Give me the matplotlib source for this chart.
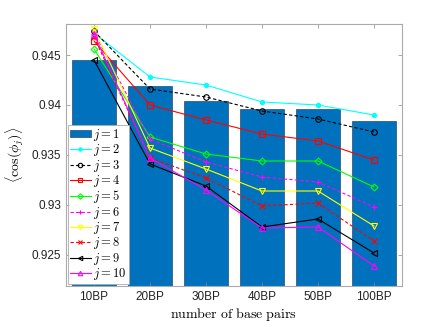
import matplotlib
matplotlib.use('Agg')
import numpy as np
import matplotlib.pyplot as plt

plt.rcParams['mathtext.fontset'] = 'cm'
plt.rcParams['font.family'] = ['Liberation Sans', 'DejaVu Sans']

# data
categories = ['10BP', '20BP', '30BP', '40BP', '50BP', '100BP']
j1 = [0.9445, 0.9419, 0.9404, 0.9396, 0.9396, 0.9384]
j2 = [0.9472, 0.9428, 0.9420, 0.9403, 0.9400, 0.9390]
j3 = [0.9474, 0.9416, 0.9408, 0.9394, 0.9386, 0.9373]
j4 = [0.9464, 0.9400, 0.9385, 0.9371, 0.9364, 0.9345]
j5 = [0.9456, 0.9368, 0.9351, 0.9344, 0.9344, 0.9318]
j6 = [0.9473, 0.9366, 0.9343, 0.9328, 0.9323, 0.9298]
j7 = [0.9476, 0.9357, 0.9336, 0.9314, 0.9314, 0.9279]
j8 = [0.9468, 0.9347, 0.9327, 0.9299, 0.9302, 0.9264]
j9 = [0.9445, 0.9341, 0.9319, 0.9278, 0.9286, 0.9252]
j10 = [0.9471, 0.9347, 0.9315, 0.9277, 0.9278, 0.9239]

x = np.arange(1, len(categories) + 1)

fig = plt.figure(figsize=(4.44, 3.27), dpi=100)
ax = fig.add_axes([0.1486, 0.1254, 0.7568, 0.8012])

bars = ax.bar(x, j1, width=0.8, color='#0072BD', edgecolor='#2a4a6a', lw=0.5, label='$j=1$')
handles = [bars]

styles = [
    (j2, '#00ffff', '-', 'o', True),
    (j3, 'black', '--', 'o', False),
    (j4, 'red', '-', 's', False),
    (j5, '#00ff00', '-', 'D', False),
    (j6, 'magenta', '--', '+', False),
    (j7, '#ffff00', '-', 'v', False),
    (j8, 'red', '--', 'x', False),
    (j9, 'black', '-', '<', False),
    (j10, 'magenta', '-', '^', False),
]
for k, (vals, c, ls, mk, filled) in enumerate(styles):
    ms = 3 if mk == 'o' and filled else 4
    if mk == 'D':
        ms = 3.5
    ln, = ax.plot(x, vals, color=c, ls=ls, lw=0.8, marker=mk, ms=ms,
                  mfc=c if filled else 'none', mec=c, mew=0.8,
                  label=f'$j={k + 2}$', dashes=(3, 2) if ls == '--' else (None, None))
    handles.append(ln)

ax.set_xlim(0.5, 6.5)
ax.set_ylim(0.9219, 0.9481)
ax.set_xticks(x)
ax.set_xticklabels(categories)
ax.set_yticks([0.925, 0.93, 0.935, 0.94, 0.945])
ax.set_yticklabels(['0.925', '0.93', '0.935', '0.94', '0.945'])
ax.tick_params(direction='in', top=True, right=True, labelsize=8.5,
               color='#888888', length=3, width=0.5, labelcolor='#222222')
for s in ax.spines.values():
    s.set_color('#aaaaaa')
    s.set_linewidth(0.8)

ax.set_xlabel(r'$\mathrm{number\ of\ base\ pairs}$', fontsize=10, labelpad=2)
ax.set_ylabel(r'$\langle\cos(\phi_j)\rangle$', fontsize=10, labelpad=4)

leg = ax.legend(handles=handles, loc='lower left', fontsize=9, frameon=True,
                fancybox=False, framealpha=1, borderaxespad=0.15,
                handlelength=1.7, handleheight=0.5, handletextpad=0.2,
                labelspacing=-0.05, borderpad=0.15, markerscale=0.8)
leg.get_frame().set_edgecolor('#aaaaaa')
leg.get_frame().set_linewidth(0.6)

plt.savefig('out.png', dpi=100)
